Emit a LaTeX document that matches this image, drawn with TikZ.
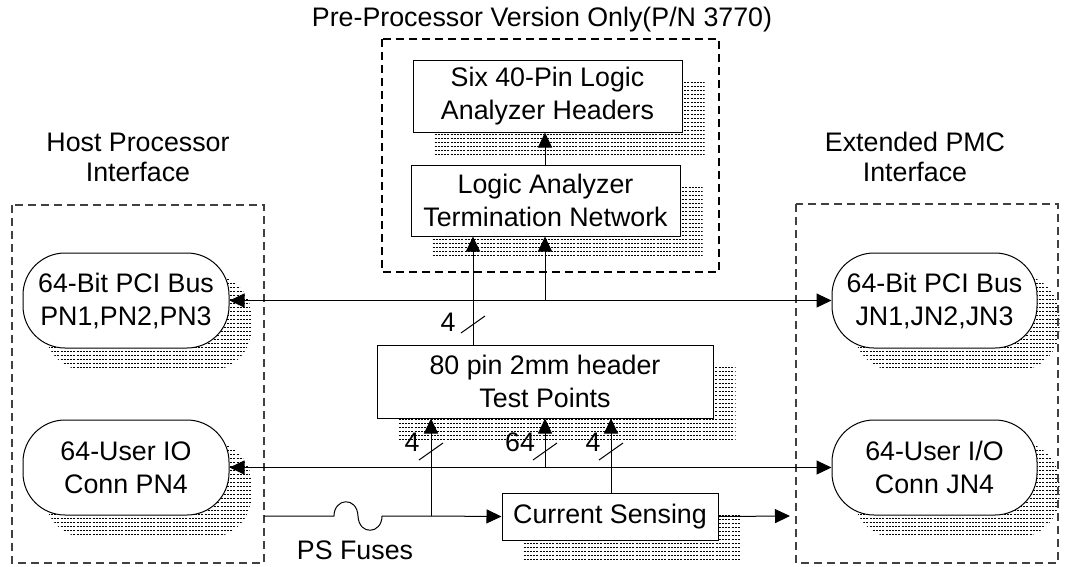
\documentclass[tikz,border=0pt]{standalone}
\usepackage{fontspec}
\setmainfont{Liberation Sans}
\usetikzlibrary{arrows.meta,backgrounds,calc}
\newcommand\mkshadow[2]{%
  \begin{scope}
    \path ($(#1.north west)+(22,22)$) coordinate (sA) ($(#1.south east)+(22,22)$) coordinate (sB);
    \clip[rounded corners=#2] (sA) rectangle (sB);
    \foreach \k in {0,...,30} \draw[shline] ($(sA)+(0,4*\k+1)$) -- ($(sA -| sB)+(0,4*\k+1)$);
  \end{scope}}
\begin{document}
\begin{tikzpicture}[x=1pt,y=-1pt,
  every node/.style={font=\fontsize{26.8}{33}\selectfont, align=center, inner sep=0pt},
  blk/.style={draw, line width=1pt, fill=white},
  oval/.style={draw, line width=1pt, fill=white, rounded corners=42pt, minimum width=206pt, minimum height=95pt},
  shline/.style={line width=0.9pt, dash pattern=on 2pt off 1.2pt},
  grpbox/.style={line width=1.2pt, dash pattern=on 8pt off 5pt},
  arr/.style={line width=1pt, -{Triangle[length=15pt,width=14pt]}},
  darr/.style={line width=1pt, {Triangle[length=15pt,width=14pt]}-{Triangle[length=15pt,width=14pt]}},
  wire/.style={line width=1pt},
  slash/.style={line width=1pt},
  hdr/.style={font=\fontsize{26.8}{30}\selectfont},
  lbl/.style={font=\fontsize{26.8}{30}\selectfont}]
\useasboundingbox (0,0) rectangle (1068,566);

% group boxes
\draw[grpbox] (382,39) rectangle (719,272);
\draw[grpbox, draw=black!75] (12,205) rectangle (264,563);
\draw[grpbox, draw=black!75] (796,204) rectangle (1058,563);

% titles
\node[hdr] (ttl) at (542,20) {Pre-Processor Version Only(P/N 3770)};
\node[hdr] (host) at (138,157) {Host Processor\\Interface};
\node[hdr] (ext) at (915,157) {Extended PMC\\Interface};

% blocks
\node[blk, minimum width=269pt, minimum height=72pt] (six) at (547.5,96) {Six 40-Pin Logic\\Analyzer Headers};
\node[blk, minimum width=269pt, minimum height=71pt] (term) at (545.5,200.5) {Logic Analyzer\\Termination Network};
\node[blk, minimum width=336pt, minimum height=73pt] (tp) at (545,381.5) {80 pin 2mm header\\Test Points};
\node[blk, minimum width=216pt, minimum height=47pt] (cs) at (610,516.5) {Current Sensing};
\node[oval] (pciL) at (126,300.5) {64-Bit PCI Bus\\PN1,PN2,PN3};
\node[oval, minimum width=205pt] (pciR) at (934.5,300.5) {64-Bit PCI Bus\\JN1,JN2,JN3};
\node[oval] (ioL) at (126,467.5) {64-User IO\\Conn PN4};
\node[oval, minimum width=205pt] (ioR) at (934.5,467.5) {64-User I/O\\Conn JN4};

% shadows
\begin{scope}[on background layer]
  \mkshadow{six}{0pt}
  \mkshadow{term}{0pt}
  \mkshadow{tp}{0pt}
  \mkshadow{cs}{0pt}
  \mkshadow{pciL}{42pt}
  \mkshadow{pciR}{42pt}
  \mkshadow{ioL}{42pt}
  \mkshadow{ioR}{42pt}
\end{scope}

% coordinates
\coordinate (xa) at (473,0);
\coordinate (xb) at (545,0);
\coordinate (xc) at (431,0);
\coordinate (xd) at (611,0);
\coordinate (busA) at (545,301);
\coordinate (busB) at (545,468);
\coordinate (psL) at (264,516);
\coordinate (f1) at (334,516);
\coordinate (f2) at (382,516);
\coordinate (jn) at (431,516);
\coordinate (outR) at (790,516);

% PCI bus
\draw[darr] (pciL.east) -- (pciR.west);
\draw[arr] (busA) -- (term.south -| xb);
\draw[arr] (tp.north -| xa) -- (term.south -| xa);
\draw[arr] (term.north -| xb) -- (six.south -| xb);

% user IO bus
\draw[darr] (ioL.east) -- (ioR.west);
\draw[arr] (busB) -- (tp.south -| xb);

% power
\draw[wire] (psL) -- (f1) .. controls (334,498) and (357,496) .. (358,516) .. controls (359,536) and (382,534) .. (f2) -- (jn);
\draw[arr] (jn) -- (cs.west);
\draw[arr] (jn) -- (tp.south -| xc);
\draw[arr] (cs.north -| xd) -- (tp.south -| xd);
\draw[arr] (cs.east) -- (outR);

% bus-width slashes
\draw[slash] (461,333) -- (485,316);
\node[lbl] (n1) at (448,322) {4};
\draw[slash] (419,460) -- (443,443);
\node[lbl] (n2) at (412,442) {4};
\draw[slash] (533,460) -- (557,443);
\node[lbl] (n3) at (520,442) {64};
\draw[slash] (599,460) -- (623,443);
\node[lbl] (n4) at (593,442) {4};

\node (psf) at (355,550) {PS Fuses};
\end{tikzpicture}
\end{document}
